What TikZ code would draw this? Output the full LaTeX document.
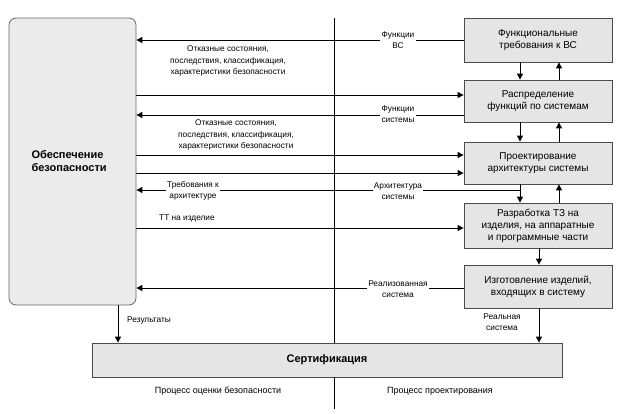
\documentclass[tikz,border=0pt]{standalone}
\usepackage{fontspec}
\setmainfont{Liberation Sans}
\usetikzlibrary{arrows.meta}
\begin{document}
\begin{tikzpicture}[x=1pt,y=-1pt,
 box/.style={draw=black!70,fill=black!10,line width=0.8pt,align=center,font=\fontsize{10}{12}\selectfont,inner sep=0pt},
 lbl/.style={align=center,font=\fontsize{8.3}{11.5}\selectfont,inner sep=1pt},
 ar/.style={-{Triangle[length=6pt,width=6pt]},line width=1pt},
 ln/.style={line width=1pt}]
\useasboundingbox (0,0) rectangle (622,413);
\node[draw=black!60,fill=black!8,rounded corners=7pt,line width=0.8pt,minimum width=127pt,minimum height=287pt,inner sep=0pt] (L) at (72.5,161.5) {};
\node[font=\bfseries\fontsize{11}{12.5}\selectfont,align=left,anchor=west] (Lt) at (28,161) {Обеспечение\\безопасности};
\node[box,minimum width=148pt,minimum height=44pt] (B1) at (538,40) {Функциональные\\требования к ВС};
\node[box,minimum width=148pt,minimum height=42pt] (B2) at (538,101) {Распределение\\функций по системам};
\node[box,minimum width=148pt,minimum height=42pt] (B3) at (538,163) {Проектирование\\архитектуры системы};
\node[box,minimum width=148pt,minimum height=45pt] (B4) at (538,225.5) {Разработка ТЗ на\\изделия, на аппаратные\\и программные части};
\node[box,minimum width=148pt,minimum height=43pt] (B5) at (538,286.5) {Изготовление изделий,\\входящих в систему};
\node[box,minimum width=470pt,minimum height=34pt,font=\bfseries\fontsize{11}{12}\selectfont] (C) at (327,360) {Сертификация};
% vertical divider
\coordinate (v1) at (334,18); \coordinate (v2) at (334,343);
\coordinate (v3) at (334,377); \coordinate (v4) at (334,409);
\draw[ln] (v1) -- (v2); \draw[ln] (v3) -- (v4);
% labels
\node[lbl] (f1) at (398,40) {Функции\\ВС};
\node[lbl] (o1) at (228,61) {Отказные состояния,\\последствия, классификация,\\характеристики безопасности};
\node[lbl] (f2) at (398,114) {Функции\\системы};
\node[lbl] (o2) at (236,135) {Отказные состояния,\\последствия, классификация,\\характеристики безопасности};
\node[lbl] (a1) at (398,191) {Архитектура\\системы};
\node[lbl] (t1) at (193,191) {Требования к\\архитектуре};
\node[lbl,anchor=west] (tt) at (158,218) {ТТ на изделие};
\node[lbl] (r1) at (398,289) {Реализованная\\система};
\node[lbl,anchor=west] (res) at (126,321) {Результаты};
\node[lbl] (rs) at (502,322) {Реальная\\система};
\node[lbl,font=\fontsize{9}{11}\selectfont] (p1) at (218,391) {Процесс оценки безопасности};
\node[lbl,font=\fontsize{9}{11}\selectfont] (p2) at (440,391) {Процесс проектирования};
% horizontal arrows
\draw[ln] (B1.west |- 0,40) -- (f1.east |- 0,40);
\draw[ar] (f1.west |- 0,40) -- (L.east |- 0,40);
\draw[ar] (L.east |- 0,95) -- (B2.west |- 0,95);
\draw[ln] (B2.west |- 0,115) -- (f2.east |- 0,115);
\draw[ar] (f2.west |- 0,115) -- (L.east |- 0,115);
\draw[ar] (L.east |- 0,155) -- (B3.west |- 0,155);
\draw[ar] (L.east |- 0,173) -- (B3.west |- 0,173);
\coordinate (j) at (520,190);
\draw[ln] (j) -- (a1.east |- 0,190);
\draw[ln] (a1.west |- 0,190) -- (t1.east |- 0,190);
\draw[ar] (t1.west |- 0,190) -- (L.east |- 0,190);
\draw[ar] (L.east |- 0,228) -- (B4.west |- 0,228);
\draw[ln] (B5.west |- 0,288) -- (r1.east |- 0,288);
\draw[ar] (r1.west |- 0,288) -- (L.east |- 0,288);
% vertical arrows
\draw[ar] (B1.south -| 520,0) -- (B2.north -| 520,0);
\draw[ar] (B2.north -| 559,0) -- (B1.south -| 559,0);
\draw[ar] (B2.south -| 520,0) -- (B3.north -| 520,0);
\draw[ar] (B3.north -| 559,0) -- (B2.south -| 559,0);
\draw[ar] (B3.south -| 520,0) -- (B4.north -| 520,0);
\draw[ar] (B4.north -| 559,0) -- (B3.south -| 559,0);
\draw[ar] (B4.south -| 539,0) -- (B5.north -| 539,0);
\draw[ar] (B5.south -| 539,0) -- (C.north -| 539,0);
\draw[ar] (L.south -| 118,0) -- (C.north -| 118,0);
\end{tikzpicture}
\end{document}
